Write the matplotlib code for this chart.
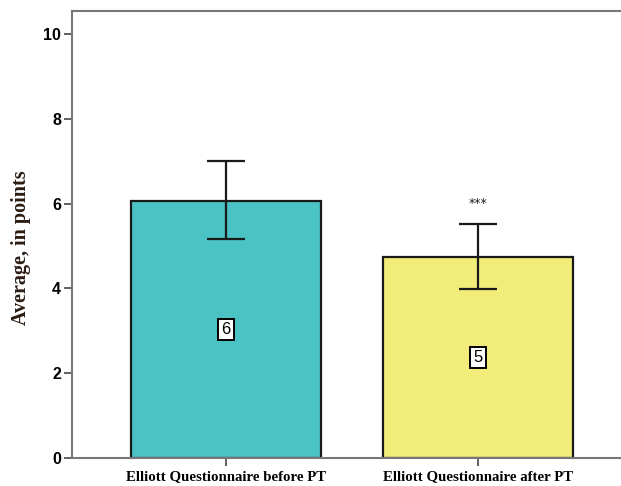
import matplotlib
matplotlib.use("Agg")
import matplotlib.pyplot as plt

categories = ["Elliott Questionnaire before PT", "Elliott Questionnaire after PT"]
means = [6.06, 4.74]
err_low = [5.17, 3.99]
err_high = [7.00, 5.52]
labels = ["6", "5"]
colors = ["#4BC2C3", "#F2EC7A"]
yticks = [0, 2, 4, 6, 8, 10]

fig = plt.figure(figsize=(6.21, 4.86), dpi=100)
ax = fig.add_axes([72/621, 28/486, (621-72)/621, (458-11)/486])

x = [0, 1]
ax.bar(x, means, width=0.754, color=colors, edgecolor="#1a1a1a", linewidth=1.6, zorder=2)
yerr = [[m - l for m, l in zip(means, err_low)], [h - m for m, h in zip(means, err_high)]]
ax.errorbar(x, means, yerr=yerr, fmt="none", ecolor="#1a1a1a", elinewidth=1.6, capsize=13.7, capthick=1.6, zorder=3)
for xi, m, lab in zip(x, means, labels):
    ax.text(xi, m / 2, lab, ha="center", va="center", fontsize=12, family="Liberation Sans",
            bbox=dict(boxstyle="square,pad=0.2", facecolor="white", edgecolor="black", linewidth=1.4), zorder=4)
ax.text(1, 6.0, "***", ha="center", va="center", fontsize=9, color="#222222")

ax.set_xlim(-0.611, 1.567)
ax.set_ylim(0, 10.54)
ax.set_yticks(yticks)
ax.set_yticklabels([str(t) for t in yticks], fontsize=11.5, fontweight="bold", family="Liberation Sans")
ax.set_xticks(x)
ax.set_xticklabels(categories, fontsize=10.7, fontweight="bold", family="Liberation Serif")
ax.set_ylabel("Average, in points", fontsize=14.5, fontweight="bold", family="Liberation Serif", color="#2b1d14")
ax.yaxis.set_label_coords(-0.074, 0.47)

for s in ["left", "top", "bottom"]:
    ax.spines[s].set_color("#777777")
    ax.spines[s].set_linewidth(1.5)
ax.spines["right"].set_visible(False)
ax.tick_params(axis="y", length=6, width=1.3, color="#555555", pad=2)
ax.tick_params(axis="x", length=6, width=1.3, color="#555555", pad=3)

fig.savefig("out.png", dpi=100)
